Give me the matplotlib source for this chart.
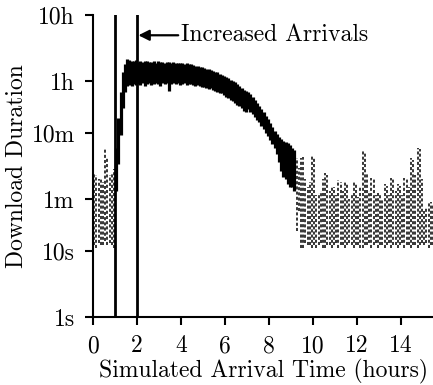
import numpy as np
import matplotlib
matplotlib.use('Agg')
import matplotlib.pyplot as plt

plt.rcParams['font.family'] = ['cmr10', 'DejaVu Serif']
plt.rcParams['mathtext.fontset'] = 'cm'
plt.rcParams['axes.unicode_minus'] = False

# --- data (durations in seconds, arrival time in hours) ---
# main congested band: per 0.1 h column, lowest and highest download duration
band_t = [1.05, 1.15, 1.25, 1.35, 1.45, 1.55, 1.65, 1.75, 1.85, 1.95,
          2.05, 2.15, 2.25, 2.35, 2.45, 2.55, 2.65, 2.75, 2.85, 2.95,
          3.05, 3.15, 3.25, 3.35, 3.45, 3.55, 3.65, 3.75, 3.85, 3.95,
          4.05, 4.15, 4.25, 4.35, 4.45, 4.55, 4.65, 4.75, 4.85, 4.95,
          5.05, 5.15, 5.25, 5.35, 5.45, 5.55, 5.65, 5.75, 5.85, 5.95,
          6.05, 6.15, 6.25, 6.35, 6.45, 6.55, 6.65, 6.75, 6.85, 6.95,
          7.05, 7.15, 7.25, 7.35, 7.45, 7.55, 7.65, 7.75, 7.85, 7.95,
          8.05, 8.15, 8.25, 8.35, 8.45, 8.55, 8.65, 8.75, 8.85, 8.95,
          9.05, 9.15]
band_lo = [80, 200, 560, 1400, 2500, 3100, 3200, 3100, 3300, 3200,
           3300, 3200, 3400, 3100, 3300, 3400, 3200, 3300, 3400, 3300,
           3100, 3400, 3300, 3400, 2600, 3300, 3400, 3300, 3400, 3200,
           3300, 3400, 3200, 3300, 3300, 3200, 3100, 3200, 3100, 3000,
           3000, 2900, 2800, 2900, 2700, 2600, 2500, 2400, 2400, 2200,
           2100, 2000, 1900, 1800, 1700, 1600, 1500, 1400, 1300, 1250,
           1380, 1250, 1150, 1050, 950, 870, 770, 690, 600, 530,
           470, 410, 360, 290, 220, 160, 130, 120, 100, 90,
           90, 80]
band_hi = [360, 1000, 2500, 5000, 6600, 7900, 7600, 7200, 7400, 7600,
           7100, 7300, 7000, 7200, 7400, 7000, 7100, 7300, 6900, 7200,
           7000, 7100, 6900, 7000, 7100, 6800, 7000, 6900, 6700, 6900,
           6800, 6600, 6700, 6500, 6600, 6300, 6200, 6100, 6000, 5900,
           5800, 5600, 5500, 5400, 5200, 5000, 4900, 4700, 4500, 4300,
           4200, 4000, 3800, 3600, 3500, 3300, 3100, 2900, 2700, 2600,
           2500, 2300, 2100, 1900, 1700, 1550, 1380, 1230, 1070, 960,
           850, 740, 650, 580, 520, 480, 450, 440, 420, 400,
           360, 330]

# uncongested periods: per 0.1 h column, lowest and highest duration
quiet_t = [0.05, 0.15, 0.25, 0.35, 0.45, 0.55, 0.65, 0.75, 0.85, 0.95,
           9.25, 9.35, 9.45, 9.55, 9.65, 9.75, 9.85, 9.95,
           10.05, 10.15, 10.25, 10.35, 10.45, 10.55, 10.65, 10.75, 10.85, 10.95,
           11.05, 11.15, 11.25, 11.35, 11.45, 11.55, 11.65, 11.75, 11.85, 11.95,
           12.05, 12.15, 12.25, 12.35, 12.45, 12.55, 12.65, 12.75, 12.85, 12.95,
           13.05, 13.15, 13.25, 13.35, 13.45, 13.55, 13.65, 13.75, 13.85, 13.95,
           14.05, 14.15, 14.25, 14.35, 14.45, 14.55, 14.65, 14.75, 14.85, 14.95,
           15.05, 15.15, 15.25, 15.35, 15.45]
quiet_lo = [12, 11, 13, 12, 12, 14, 12, 13, 12, 11,
            20, 40, 11, 11, 13, 12, 12, 11,
            12, 11, 12, 13, 11, 11, 12, 12, 11, 12,
            13, 11, 12, 12, 11, 12, 13, 12, 11, 12,
            12, 11, 11, 12, 12, 13, 11, 12, 13, 11,
            12, 12, 11, 12, 13, 11, 12, 12, 11, 12,
            13, 11, 12, 12, 11, 12, 12, 11, 12, 13,
            12, 13, 11, 12, 12]
quiet_hi = [150, 140, 120, 125, 110, 360, 250, 140, 150, 170,
            250, 180, 250, 260, 120, 90, 110, 280,
            260, 70, 75, 80, 120, 150, 140, 80, 95, 90,
            70, 115, 110, 80, 110, 105, 60, 70, 110, 100,
            65, 90, 330, 300, 150, 80, 125, 120, 70, 75,
            70, 60, 100, 95, 70, 125, 120, 80, 100, 95,
            70, 125, 120, 90, 250, 230, 140, 360, 340, 120,
            40, 45, 55, 55, 50]

# arrival rate change (hours)
event_t = [1, 2]

y_ticks = [1, 10, 60, 600, 3600, 36000]
y_labels = ['1s', '10s', '1m', '10m', '1h', '10h']
x_ticks = [0, 2, 4, 6, 8, 10, 12, 14]

# --- figure ---
fig = plt.figure(figsize=(4.33, 3.85), dpi=100)
ax = fig.add_axes([93 / 433, 68 / 385, 341 / 433, 302 / 385])

ax.vlines(band_t, band_lo, band_hi, colors='black', linewidth=2.3)
ax.vlines(quiet_t, quiet_lo, quiet_hi, colors='black', linewidth=1.1,
          linestyles=[(0, (2.0, 1.4))])

for t in event_t:
    ax.axvline(t, color='black', linewidth=2.0)

ax.annotate('Increased Arrivals', xy=(2, 17800), xytext=(4, 17800),
            fontsize=17, va='center', ha='left',
            arrowprops=dict(arrowstyle='-|>', color='black', lw=1.6,
                            shrinkA=0, shrinkB=1, mutation_scale=16))

ax.set_yscale('log')
ax.set_ylim(1, 36000)
ax.set_xlim(0, 15.5)
ax.set_yticks(y_ticks)
ax.set_yticklabels(y_labels)
ax.minorticks_off()
ax.set_xticks(x_ticks)

for side in ['top', 'right']:
    ax.spines[side].set_visible(False)
for side in ['left', 'bottom']:
    ax.spines[side].set_linewidth(1.5)

ax.tick_params(axis='both', direction='out', length=6, width=1.5,
               labelsize=17, pad=7)
ax.set_xlabel('Simulated Arrival Time (hours)', fontsize=17, labelpad=1)
ax.set_ylabel('Download Duration', fontsize=17, labelpad=3)

fig.savefig('out.png', dpi=100)
